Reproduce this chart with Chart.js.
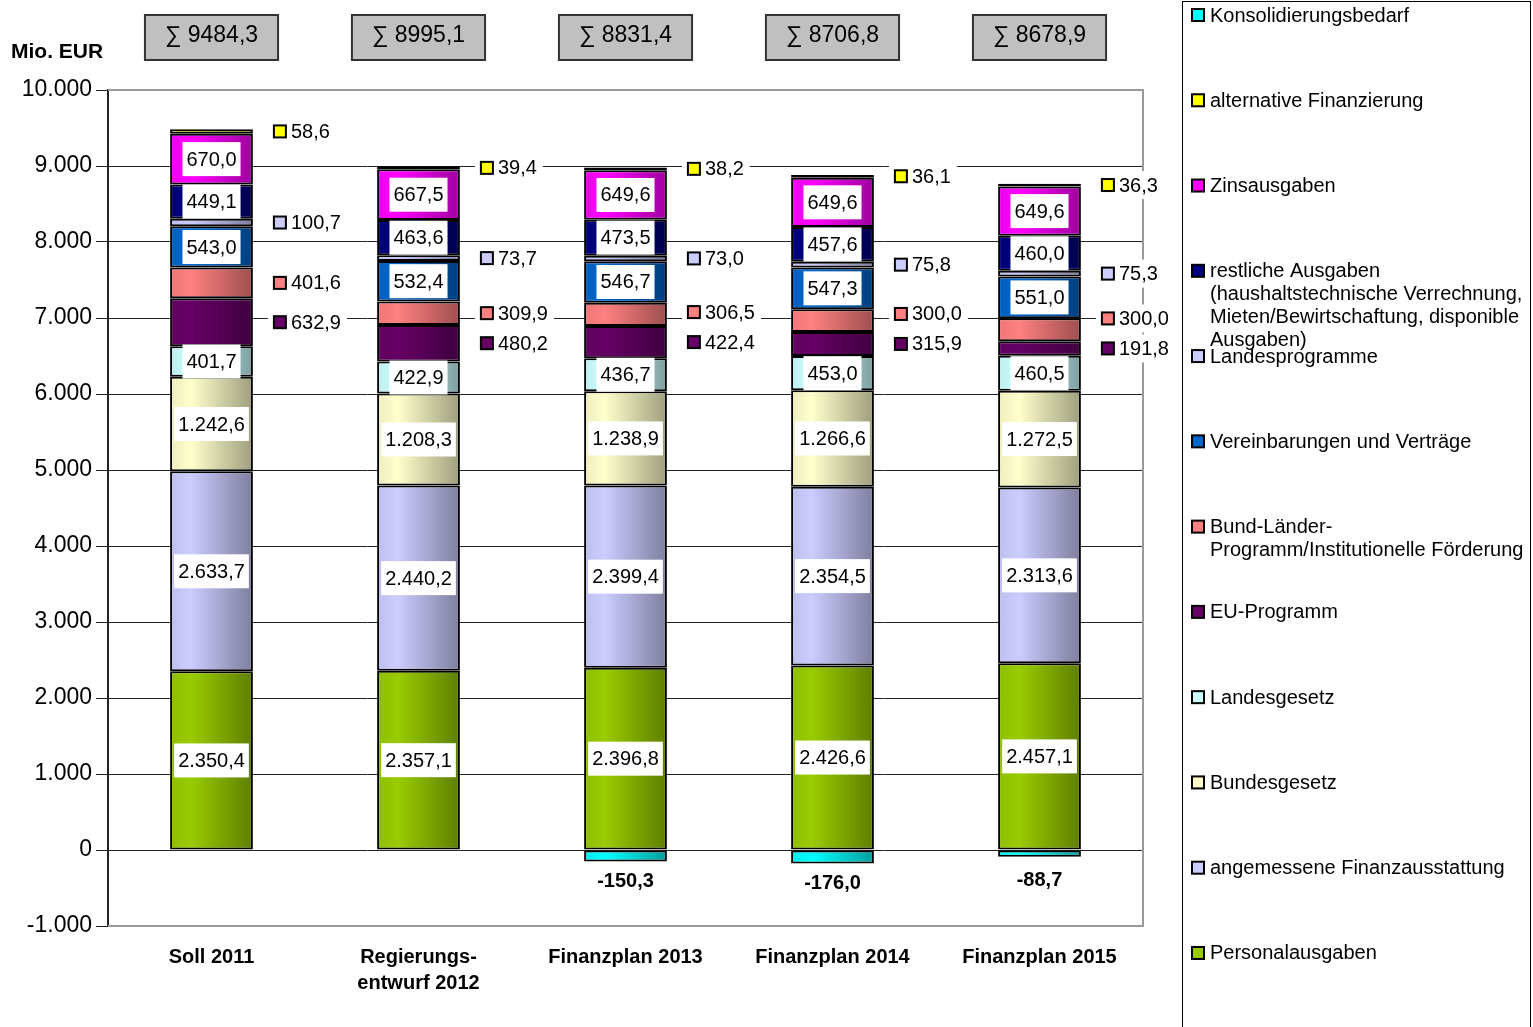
<!DOCTYPE html>
<html>
<head>
<meta charset="utf-8">
<script src="https://cdn.jsdelivr.net/npm/chart.js@4/dist/chart.umd.min.js"></script>
<style>
  body { margin: 0; background: #fff; }
  canvas { display: block; }
</style>
</head>
<body>
<canvas id="haushaltChart" width="1533" height="1027"></canvas>
<script>
// categories and values (Mio. EUR)
const years = ['Soll 2011', ['Regierungs-', 'entwurf 2012'], 'Finanzplan 2013', 'Finanzplan 2014', 'Finanzplan 2015'];
const totals = [9484.3, 8995.1, 8831.4, 8706.8, 8678.9];
const yMin = -1000, yMax = 10000, yStep = 1000;

const personal        = [2350.4, 2357.1, 2396.8, 2426.6, 2457.1];
const finanzausstatt  = [2633.7, 2440.2, 2399.4, 2354.5, 2313.6];
const bundesgesetz    = [1242.6, 1208.3, 1238.9, 1266.6, 1272.5];
const landesgesetz    = [401.7, 422.9, 436.7, 453.0, 460.5];
const euProgramm      = [632.9, 480.2, 422.4, 315.9, 191.8];
const bundLaender     = [401.6, 309.9, 306.5, 300.0, 300.0];
const vertraege       = [543.0, 532.4, 546.7, 547.3, 551.0];
const landesprogramme = [100.7, 73.7, 73.0, 75.8, 75.3];
const restliche       = [449.1, 463.6, 473.5, 457.6, 460.0];
const zinsen          = [670.0, 667.5, 649.6, 649.6, 649.6];
const alternativ      = [58.6, 39.4, 38.2, 36.1, 36.3];
const konsolidierung  = [null, null, -150.3, -176.0, -88.7];

// mode: where the value label goes (in = inside bar, out = right of bar, below = under bar)
const series = [
    { label: 'Personalausgaben', data: personal, color: '#99CC00', mode: 'in' },
    { label: 'angemessene Finanzausstattung', data: finanzausstatt, color: '#CCCCFF', mode: 'in' },
    { label: 'Bundesgesetz', data: bundesgesetz, color: '#FFFFCC', mode: 'in' },
    { label: 'Landesgesetz', data: landesgesetz, color: '#CCFFFF', mode: 'in' },
    { label: 'EU-Programm', data: euProgramm, color: '#660066', mode: 'out' },
    { label: 'Bund-Länder-Programm/Institutionelle Förderung', data: bundLaender, color: '#FF8080', mode: 'out' },
    { label: 'Vereinbarungen und Verträge', data: vertraege, color: '#0066CC', mode: 'in' },
    { label: 'Landesprogramme', data: landesprogramme, color: '#CCCCFF', mode: 'out' },
    { label: 'restliche Ausgaben (haushaltstechnische Verrechnung, Mieten/Bewirtschaftung, disponible Ausgaben)', data: restliche, color: '#000080', mode: 'in' },
    { label: 'Zinsausgaben', data: zinsen, color: '#FF00FF', mode: 'in' },
    { label: 'alternative Finanzierung', data: alternativ, color: '#FFFF00', mode: 'out' },
    { label: 'Konsolidierungsbedarf', data: konsolidierung, color: '#00FFFF', mode: 'below' }
];

const FONT = 'Arial, "Liberation Sans", sans-serif';
const BAR_PCT = 0.4;

function deNum(v) {
    const parts = Math.abs(v).toFixed(1).split('.');
    return (v < 0 ? '-' : '') + parts[0].replace(/\B(?=(\d{3})+(?!\d))/g, '.') + ',' + parts[1];
}

function shade(hex, f) {
    const n = parseInt(hex.slice(1), 16);
    const r = (n >> 16) & 255, g = (n >> 8) & 255, b = n & 255;
    return 'rgb(' + Math.round(r * f) + ',' + Math.round(g * f) + ',' + Math.round(b * f) + ')';
}

// horizontal shading like the old office charts: light left, dark right
function barFill(color) {
    return (ctx) => {
        const chart = ctx.chart;
        const x = chart.scales.x;
        if (ctx.type !== 'data' || !chart.chartArea || !x) return color;
        const cx = x.getPixelForValue(ctx.dataIndex);
        const half = (x.getPixelForValue(1) - x.getPixelForValue(0)) * BAR_PCT / 2;
        const g = chart.ctx.createLinearGradient(cx - half, 0, cx + half, 0);
        g.addColorStop(0, shade(color, 0.93));
        g.addColorStop(0.25, color);
        g.addColorStop(1, shade(color, 0.62));
        return g;
    };
}

function wrapText(c, text, maxW) {
    const tokens = text.match(/[^\s-]+-?\s*|\s+/g);
    const lines = [];
    let cur = '';
    tokens.forEach(t => {
        const test = cur + t;
        if (cur && c.measureText(test.trim()).width > maxW) {
            lines.push(cur.trim());
            cur = t;
        } else {
            cur = test;
        }
    });
    if (cur.trim()) lines.push(cur.trim());
    return lines;
}

const framePlugin = {
    id: 'frame',
    beforeDatasetsDraw(chart) {
        const { ctx: c, chartArea: a } = chart;
        c.save();
        c.strokeStyle = '#9a9a9a';
        c.lineWidth = 2;
        c.beginPath();
        c.moveTo(a.left, a.top);
        c.lineTo(a.right, a.top);
        c.lineTo(a.right, a.bottom);
        c.lineTo(a.left, a.bottom);
        c.stroke();
        c.restore();
    }
};

const labelPlugin = {
    id: 'valueLabels',
    afterDatasetsDraw(chart) {
        const c = chart.ctx;
        const zeroY = chart.scales.y.getPixelForValue(0);
        c.save();
        c.textBaseline = 'middle';
        c.textAlign = 'center';
        const outside = years.map(() => []);

        series.forEach((s, i) => {
            const meta = chart.getDatasetMeta(i);
            meta.data.forEach((el, j) => {
                const v = s.data[j];
                if (v === null || v === undefined) return;
                const mid = (el.y + el.base) / 2;
                if (s.mode === 'in') {
                    c.font = '20px ' + FONT;
                    const txt = deNum(v);
                    const w = c.measureText(txt).width + 8;
                    c.fillStyle = '#fff';
                    c.fillRect(el.x - w / 2, mid - 17, w, 34);
                    c.fillStyle = '#000';
                    c.fillText(txt, el.x, mid + 1);
                } else if (s.mode === 'out') {
                    outside[j].push({ y: mid, x: el.x + el.width / 2 + 21, v: v, color: s.color });
                } else {
                    c.font = 'bold 20px ' + FONT;
                    c.fillStyle = '#000';
                    const below = Math.max(Math.max(el.y, el.base) + 20, zeroY + 30);
                    c.fillText(deNum(v), el.x, below);
                }
            });
        });

        // labels to the right of the bars, nudged apart when they crowd
        c.font = '20px ' + FONT;
        c.textAlign = 'left';
        outside.forEach(list => {
            let prev = Infinity;
            list.forEach(item => {
                const y = Math.min(item.y, prev - 30);
                prev = y;
                const txt = deNum(item.v);
                const tw = c.measureText(txt).width;
                c.fillStyle = '#fff';
                c.fillRect(item.x - 6, y - 14, 12 + 5 + tw + 12, 28);
                c.fillStyle = item.color;
                c.fillRect(item.x, y - 6, 12, 12);
                c.strokeStyle = '#000';
                c.lineWidth = 2;
                c.strokeRect(item.x, y - 6, 12, 12);
                c.fillStyle = '#000';
                c.fillText(txt, item.x + 17, y + 1);
            });
        });
        c.restore();
    },
    afterDraw(chart) {
        const c = chart.ctx;
        const x = chart.scales.x;
        c.save();
        c.textBaseline = 'middle';

        // unit
        c.font = 'bold 21px ' + FONT;
        c.fillStyle = '#000';
        c.textAlign = 'left';
        c.fillText('Mio. EUR', 11, 52);

        // sum boxes
        c.font = '23px ' + FONT;
        c.textAlign = 'center';
        totals.forEach((t, j) => {
            const txt = '\u2211 ' + t.toFixed(1).replace('.', ',');
            const w = c.measureText(txt).width + 40;
            const cx = x.getPixelForValue(j);
            c.fillStyle = '#C0C0C0';
            c.fillRect(cx - w / 2, 15, w, 45);
            c.strokeStyle = '#333';
            c.lineWidth = 2;
            c.strokeRect(cx - w / 2, 15, w, 45);
            c.fillStyle = '#000';
            c.fillText(txt, cx, 36);
        });

        // legend on the right, top entry = top of stack
        c.strokeStyle = '#000';
        c.lineWidth = 1;
        c.strokeRect(1182.5, 1.5, 348, 1040);
        c.textAlign = 'left';
        c.font = '20px ' + FONT;
        series.slice().reverse().forEach((s, k) => {
            const y = 15 + k * 85.27;
            c.fillStyle = s.color;
            c.fillRect(1192, y - 6, 12, 12);
            c.strokeStyle = '#000';
            c.lineWidth = 2;
            c.strokeRect(1192, y - 6, 12, 12);
            c.fillStyle = '#000';
            wrapText(c, s.label, 322).forEach((line, n) => {
                c.fillText(line, 1210, y + 1 + n * 23);
            });
        });
        c.restore();
    }
};

const ctx = document.getElementById('haushaltChart').getContext('2d');
new Chart(ctx, {
    type: 'bar',
    data: {
        labels: years,
        datasets: series.map(s => ({
            label: s.label,
            data: s.data,
            backgroundColor: barFill(s.color),
            borderColor: '#000',
            borderWidth: 2,
            borderSkipped: false,
            barPercentage: BAR_PCT,
            categoryPercentage: 1
        }))
    },
    options: {
        responsive: false,
        animation: false,
        devicePixelRatio: 1,
        layout: { padding: { top: 90, right: 390, bottom: 0, left: 0 } },
        plugins: {
            legend: { display: false },
            tooltip: { enabled: false }
        },
        scales: {
            x: {
                stacked: true,
                grid: { display: false, drawTicks: false },
                border: { display: false },
                ticks: {
                    color: '#000',
                    padding: 18,
                    font: { family: FONT, size: 20, weight: 'bold', lineHeight: 1.3 }
                },
                afterFit: scale => { scale.height = 101; }
            },
            y: {
                stacked: true,
                min: yMin,
                max: yMax,
                grid: {
                    color: c => (c.tick.value === yMin || c.tick.value === yMax) ? 'rgba(0,0,0,0)' : '#222',
                    tickColor: '#222',
                    tickLength: 12
                },
                border: { color: '#222', width: 2 },
                ticks: {
                    stepSize: yStep,
                    color: '#000',
                    padding: 4,
                    font: { family: FONT, size: 23 },
                    callback: v => (v < 0 ? '-' : '') + Math.abs(v).toString().replace(/\B(?=(\d{3})+(?!\d))/g, '.')
                },
                afterFit: scale => { scale.width = 108; }
            }
        }
    },
    plugins: [framePlugin, labelPlugin]
});
</script>
</body>
</html>
